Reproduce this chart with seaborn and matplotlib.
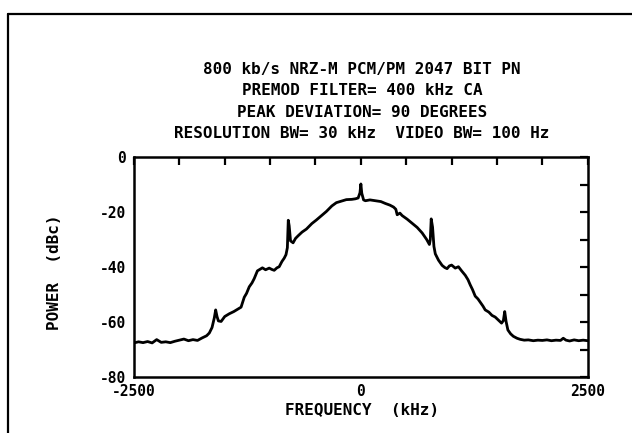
import matplotlib
matplotlib.use('Agg')
import matplotlib.pyplot as plt
import seaborn as sns
from matplotlib.lines import Line2D

# Spectrum readings (frequency offset in kHz, power in dBc)
freq_khz = [
    -2500, -2450, -2400, -2350, -2300, -2250, -2200, -2150, -2100, -2050,
    -2000, -1950, -1900, -1850, -1800, -1750, -1700, -1670, -1640, -1615,
    -1600, -1585, -1570, -1540, -1500, -1450, -1400, -1360, -1320, -1285,
    -1260, -1230, -1200, -1175, -1140, -1110, -1085, -1050, -1010, -980,
    -955, -925, -900, -870, -845, -825, -810, -800, -790, -775,
    -747, -720, -690, -648, -600, -540, -490, -430, -380, -320,
    -270, -210, -160, -100, -60, -30, -10, 0, 10, 30,
    50, 100, 160, 220, 270, 320, 360, 385, 400, 430,
    455, 510, 565, 620, 675, 725, 755, 765, 775, 790,
    805, 820, 855, 895, 925, 950, 975, 1000, 1040, 1075,
    1110, 1150, 1180, 1205, 1230, 1260, 1290, 1315, 1345, 1370,
    1410, 1445, 1480, 1515, 1550, 1570, 1585, 1600, 1620, 1650,
    1680, 1720, 1755, 1800, 1845, 1900, 1950, 2000, 2050, 2100,
    2150, 2200, 2230, 2260, 2300, 2350, 2400, 2450, 2500,
]
power_dbc = [
    -67.6, -67.2, -67.5, -67.1, -67.6, -66.4, -67.4, -67.2, -67.5, -67.0,
    -66.6, -66.2, -66.8, -66.4, -66.7, -65.8, -65.0, -64.0, -62.0, -58.5,
    -55.6, -58.0, -59.6, -59.8, -58.0, -57.0, -56.2, -55.4, -54.6, -51.0,
    -49.6, -47.2, -45.8, -44.2, -41.4, -40.8, -40.3, -41.0, -40.4, -40.9,
    -41.2, -40.3, -39.9, -38.0, -36.8, -35.5, -33.0, -23.0, -25.0, -30.5,
    -31.2, -29.6, -28.6, -27.3, -26.2, -24.2, -22.9, -21.2, -19.8, -17.8,
    -16.6, -16.0, -15.5, -15.4, -15.2, -14.9, -13.0, -9.8, -13.2, -15.6,
    -15.9, -15.6, -15.9, -16.2, -16.9, -17.5, -18.2, -19.0, -21.0, -20.4,
    -21.3, -22.6, -24.1, -25.6, -27.6, -30.0, -31.8, -30.0, -22.5, -25.5,
    -32.5, -35.2, -37.5, -39.4, -40.2, -40.6, -39.6, -39.3, -40.4, -39.9,
    -41.4, -43.0, -44.6, -46.5, -48.2, -50.6, -51.6, -52.8, -54.2, -55.6,
    -56.4, -57.6, -58.2, -59.3, -60.4, -59.5, -56.2, -59.8, -62.9, -64.3,
    -65.2, -65.9, -66.3, -66.6, -66.5, -66.8, -66.6, -66.7, -66.5, -66.8,
    -66.6, -66.7, -65.9, -66.6, -66.9, -66.5, -66.8, -66.6, -66.8,
]

x_ticks = [-2500, -2000, -1500, -1000, -500, 0, 500, 1000, 1500, 2000, 2500]
x_labels = ['-2500', '', '', '', '', '0', '', '', '', '', '2500']
y_ticks = [-80, -70, -60, -50, -40, -30, -20, -10, 0]
y_labels = ['-80', '', '-60', '', '-40', '', '-20', '', '0']

title_lines = [
    '800 kb/s NRZ-M PCM/PM 2047 BIT PN',
    'PREMOD FILTER= 400 kHz CA',
    'PEAK DEVIATION= 90 DEGREES',
    'RESOLUTION BW= 30 kHz  VIDEO BW= 100 Hz',
]

sns.set_style('white')
plt.rcParams['font.family'] = ['DejaVu Sans Mono', 'DejaVu Sans']
plt.rcParams['axes.unicode_minus'] = False

fig = plt.figure(figsize=(6.32, 4.33), dpi=100)
ax = fig.add_axes([0.212, 0.1293, 0.718, 0.5081])

sns.lineplot(x=freq_khz, y=power_dbc, color='black', lw=2.0, ax=ax)

ax.set_xlim(-2500, 2500)
ax.set_ylim(-80, 0)
ax.set_xticks(x_ticks, x_labels)
ax.set_yticks(y_ticks, y_labels)
ax.tick_params(direction='in', top=True, right=True, length=6, width=1.6,
               labelsize=10.5, colors='black')
ax.tick_params(axis='y', pad=6)
ax.tick_params(axis='x', pad=5)
for lbl in ax.get_xticklabels() + ax.get_yticklabels():
    lbl.set_fontweight('bold')
for sp in ax.spines.values():
    sp.set_linewidth(1.8)
    sp.set_color('black')
    sp.set_visible(True)

# Header block
for i, line in enumerate(title_lines):
    fig.text(0.573, 0.840 - i * 0.0497, line, ha='center', va='center',
             fontsize=11.5, fontweight='bold', color='black')

fig.text(0.573, 0.053, 'FREQUENCY  (kHz)', ha='center', va='center',
         fontsize=11.5, fontweight='bold', color='black')
fig.text(0.087, 0.372, 'POWER  (dBc)', ha='center', va='center',
         rotation=90, fontsize=11.5, fontweight='bold', color='black')

# partial frame around the figure
fig.add_artist(Line2D([0.0127, 1.0], [0.9677, 0.9677], transform=fig.transFigure,
                      color='black', lw=1.6))
fig.add_artist(Line2D([0.0127, 0.0127], [0.0, 0.9677], transform=fig.transFigure,
                      color='black', lw=1.6))

fig.savefig('out.png', dpi=100)
